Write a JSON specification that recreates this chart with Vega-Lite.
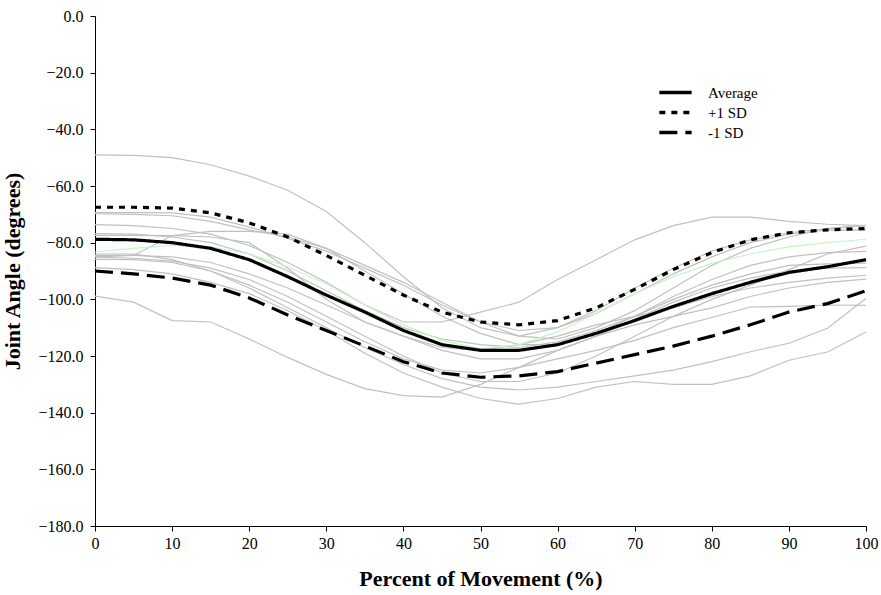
{
  "$schema": "https://vega.github.io/schema/vega-lite/v6.json",
  "width": 771,
  "height": 510,
  "autosize": {"type": "none"},
  "padding": {"left": 95, "top": 16, "right": 15, "bottom": 69},
  "background": "white",
  "config": {
    "view": {"stroke": null},
    "font": "Liberation Serif",
    "axis": {
      "grid": false,
      "domainColor": "black",
      "tickColor": "black",
      "labelColor": "black",
      "titleColor": "black",
      "labelFont": "Liberation Serif",
      "titleFont": "Liberation Serif",
      "labelFontSize": 16,
      "titleFontSize": 22,
      "titleFontWeight": "bold",
      "tickSize": 5
    }
  },
  "data": {"values": [
    {"s":"G1","x":0,"y":-49},{"s":"G1","x":5,"y":-49.2},{"s":"G1","x":10,"y":-50},{"s":"G1","x":15,"y":-52.5},{"s":"G1","x":20,"y":-56.5},{"s":"G1","x":25,"y":-61.5},{"s":"G1","x":30,"y":-69},{"s":"G1","x":35,"y":-80},{"s":"G1","x":40,"y":-92},{"s":"G1","x":45,"y":-103},{"s":"G1","x":50,"y":-110},{"s":"G1","x":55,"y":-113},{"s":"G1","x":60,"y":-110},{"s":"G1","x":65,"y":-104},{"s":"G1","x":70,"y":-96},{"s":"G1","x":75,"y":-89},{"s":"G1","x":80,"y":-83},{"s":"G1","x":85,"y":-79},{"s":"G1","x":90,"y":-76.5},{"s":"G1","x":95,"y":-75},{"s":"G1","x":100,"y":-74},
    {"s":"G2","x":0,"y":-69.4},{"s":"G2","x":5,"y":-69.4},{"s":"G2","x":10,"y":-69.5},{"s":"G2","x":15,"y":-71},{"s":"G2","x":20,"y":-74.5},{"s":"G2","x":25,"y":-78.5},{"s":"G2","x":30,"y":-83},{"s":"G2","x":35,"y":-89},{"s":"G2","x":40,"y":-95},{"s":"G2","x":45,"y":-102},{"s":"G2","x":50,"y":-108},{"s":"G2","x":55,"y":-111},{"s":"G2","x":60,"y":-110},{"s":"G2","x":65,"y":-105},{"s":"G2","x":70,"y":-98},{"s":"G2","x":75,"y":-91},{"s":"G2","x":80,"y":-85},{"s":"G2","x":85,"y":-80},{"s":"G2","x":90,"y":-77},{"s":"G2","x":95,"y":-75.5},{"s":"G2","x":100,"y":-75.6},
    {"s":"G3","x":0,"y":-69.8},{"s":"G3","x":5,"y":-70},{"s":"G3","x":10,"y":-70.5},{"s":"G3","x":15,"y":-72.5},{"s":"G3","x":20,"y":-75.5},{"s":"G3","x":25,"y":-78},{"s":"G3","x":30,"y":-82},{"s":"G3","x":35,"y":-88},{"s":"G3","x":40,"y":-94},{"s":"G3","x":45,"y":-101},{"s":"G3","x":50,"y":-108},{"s":"G3","x":55,"y":-113},{"s":"G3","x":60,"y":-114},{"s":"G3","x":65,"y":-110},{"s":"G3","x":70,"y":-104},{"s":"G3","x":75,"y":-96},{"s":"G3","x":80,"y":-88},{"s":"G3","x":85,"y":-82},{"s":"G3","x":90,"y":-78},{"s":"G3","x":95,"y":-75},{"s":"G3","x":100,"y":-73.9},
    {"s":"G4","x":0,"y":-73.6},{"s":"G4","x":5,"y":-74},{"s":"G4","x":10,"y":-75},{"s":"G4","x":15,"y":-77},{"s":"G4","x":20,"y":-81},{"s":"G4","x":25,"y":-87},{"s":"G4","x":30,"y":-94},{"s":"G4","x":35,"y":-102},{"s":"G4","x":40,"y":-108},{"s":"G4","x":45,"y":-108},{"s":"G4","x":50,"y":-104.5},{"s":"G4","x":55,"y":-101},{"s":"G4","x":60,"y":-93},{"s":"G4","x":65,"y":-86},{"s":"G4","x":70,"y":-79},{"s":"G4","x":75,"y":-74},{"s":"G4","x":80,"y":-71},{"s":"G4","x":85,"y":-71},{"s":"G4","x":90,"y":-72.5},{"s":"G4","x":95,"y":-73.5},{"s":"G4","x":100,"y":-74},
    {"s":"G5","x":0,"y":-85},{"s":"G5","x":5,"y":-84.5},{"s":"G5","x":10,"y":-77.5},{"s":"G5","x":15,"y":-76},{"s":"G5","x":20,"y":-76},{"s":"G5","x":25,"y":-77},{"s":"G5","x":30,"y":-82},{"s":"G5","x":35,"y":-90},{"s":"G5","x":40,"y":-98},{"s":"G5","x":45,"y":-106},{"s":"G5","x":50,"y":-112},{"s":"G5","x":55,"y":-116},{"s":"G5","x":60,"y":-116},{"s":"G5","x":65,"y":-112},{"s":"G5","x":70,"y":-106},{"s":"G5","x":75,"y":-99},{"s":"G5","x":80,"y":-93},{"s":"G5","x":85,"y":-88},{"s":"G5","x":90,"y":-85},{"s":"G5","x":95,"y":-83.5},{"s":"G5","x":100,"y":-83.1},
    {"s":"G6","x":0,"y":-76.8},{"s":"G6","x":5,"y":-77},{"s":"G6","x":10,"y":-78},{"s":"G6","x":15,"y":-80},{"s":"G6","x":20,"y":-84},{"s":"G6","x":25,"y":-90},{"s":"G6","x":30,"y":-97},{"s":"G6","x":35,"y":-104},{"s":"G6","x":40,"y":-110},{"s":"G6","x":45,"y":-114},{"s":"G6","x":50,"y":-116},{"s":"G6","x":55,"y":-117},{"s":"G6","x":60,"y":-115},{"s":"G6","x":65,"y":-111},{"s":"G6","x":70,"y":-106},{"s":"G6","x":75,"y":-100},{"s":"G6","x":80,"y":-95},{"s":"G6","x":85,"y":-91},{"s":"G6","x":90,"y":-88},{"s":"G6","x":95,"y":-87.5},{"s":"G6","x":100,"y":-87.2},
    {"s":"G7","x":0,"y":-77.4},{"s":"G7","x":5,"y":-77.4},{"s":"G7","x":10,"y":-77.5},{"s":"G7","x":15,"y":-78},{"s":"G7","x":20,"y":-80},{"s":"G7","x":25,"y":-89},{"s":"G7","x":30,"y":-100},{"s":"G7","x":35,"y":-108},{"s":"G7","x":40,"y":-113},{"s":"G7","x":45,"y":-118},{"s":"G7","x":50,"y":-121},{"s":"G7","x":55,"y":-121},{"s":"G7","x":60,"y":-118},{"s":"G7","x":65,"y":-113},{"s":"G7","x":70,"y":-107},{"s":"G7","x":75,"y":-101},{"s":"G7","x":80,"y":-96},{"s":"G7","x":85,"y":-92.5},{"s":"G7","x":90,"y":-90},{"s":"G7","x":95,"y":-89},{"s":"G7","x":100,"y":-88.8},
    {"s":"G8","x":0,"y":-84.5},{"s":"G8","x":5,"y":-84.5},{"s":"G8","x":10,"y":-85},{"s":"G8","x":15,"y":-87},{"s":"G8","x":20,"y":-91},{"s":"G8","x":25,"y":-96},{"s":"G8","x":30,"y":-102},{"s":"G8","x":35,"y":-108},{"s":"G8","x":40,"y":-113},{"s":"G8","x":45,"y":-117},{"s":"G8","x":50,"y":-118},{"s":"G8","x":55,"y":-116},{"s":"G8","x":60,"y":-113},{"s":"G8","x":65,"y":-109},{"s":"G8","x":70,"y":-106},{"s":"G8","x":75,"y":-103},{"s":"G8","x":80,"y":-99},{"s":"G8","x":85,"y":-96},{"s":"G8","x":90,"y":-94},{"s":"G8","x":95,"y":-92.5},{"s":"G8","x":100,"y":-91.5},
    {"s":"G9","x":0,"y":-85.1},{"s":"G9","x":5,"y":-85.5},{"s":"G9","x":10,"y":-86.5},{"s":"G9","x":15,"y":-89},{"s":"G9","x":20,"y":-93},{"s":"G9","x":25,"y":-99},{"s":"G9","x":30,"y":-106},{"s":"G9","x":35,"y":-113},{"s":"G9","x":40,"y":-120},{"s":"G9","x":45,"y":-126},{"s":"G9","x":50,"y":-129},{"s":"G9","x":55,"y":-129},{"s":"G9","x":60,"y":-126},{"s":"G9","x":65,"y":-120},{"s":"G9","x":70,"y":-113},{"s":"G9","x":75,"y":-106},{"s":"G9","x":80,"y":-100},{"s":"G9","x":85,"y":-95},{"s":"G9","x":90,"y":-89.5},{"s":"G9","x":95,"y":-84},{"s":"G9","x":100,"y":-81.2},
    {"s":"G10","x":0,"y":-85.9},{"s":"G10","x":5,"y":-86},{"s":"G10","x":10,"y":-87},{"s":"G10","x":15,"y":-90},{"s":"G10","x":20,"y":-95},{"s":"G10","x":25,"y":-101},{"s":"G10","x":30,"y":-108},{"s":"G10","x":35,"y":-115},{"s":"G10","x":40,"y":-121},{"s":"G10","x":45,"y":-125},{"s":"G10","x":50,"y":-126},{"s":"G10","x":55,"y":-124},{"s":"G10","x":60,"y":-121},{"s":"G10","x":65,"y":-118},{"s":"G10","x":70,"y":-114.5},{"s":"G10","x":75,"y":-110},{"s":"G10","x":80,"y":-106.4},{"s":"G10","x":85,"y":-102.7},{"s":"G10","x":90,"y":-102.5},{"s":"G10","x":95,"y":-102},{"s":"G10","x":100,"y":-102.1},
    {"s":"G11","x":0,"y":-88.8},{"s":"G11","x":5,"y":-89.5},{"s":"G11","x":10,"y":-91},{"s":"G11","x":15,"y":-94},{"s":"G11","x":20,"y":-98},{"s":"G11","x":25,"y":-104},{"s":"G11","x":30,"y":-111},{"s":"G11","x":35,"y":-119},{"s":"G11","x":40,"y":-126},{"s":"G11","x":45,"y":-131},{"s":"G11","x":50,"y":-135},{"s":"G11","x":55,"y":-137},{"s":"G11","x":60,"y":-135},{"s":"G11","x":65,"y":-131},{"s":"G11","x":70,"y":-129},{"s":"G11","x":75,"y":-130},{"s":"G11","x":80,"y":-130},{"s":"G11","x":85,"y":-127},{"s":"G11","x":90,"y":-121.5},{"s":"G11","x":95,"y":-118.6},{"s":"G11","x":100,"y":-111.5},
    {"s":"G12","x":0,"y":-98.9},{"s":"G12","x":5,"y":-101},{"s":"G12","x":10,"y":-107.5},{"s":"G12","x":15,"y":-108},{"s":"G12","x":20,"y":-114},{"s":"G12","x":25,"y":-120.5},{"s":"G12","x":30,"y":-126.5},{"s":"G12","x":35,"y":-131.5},{"s":"G12","x":40,"y":-134},{"s":"G12","x":45,"y":-134.5},{"s":"G12","x":50,"y":-130},{"s":"G12","x":55,"y":-124},{"s":"G12","x":60,"y":-118},{"s":"G12","x":65,"y":-113},{"s":"G12","x":70,"y":-109},{"s":"G12","x":75,"y":-106},{"s":"G12","x":80,"y":-103},{"s":"G12","x":85,"y":-99},{"s":"G12","x":90,"y":-96},{"s":"G12","x":95,"y":-94},{"s":"G12","x":100,"y":-92.9},
    {"s":"G13","x":0,"y":-84},{"s":"G13","x":5,"y":-84},{"s":"G13","x":10,"y":-86},{"s":"G13","x":15,"y":-90},{"s":"G13","x":20,"y":-96},{"s":"G13","x":25,"y":-103},{"s":"G13","x":30,"y":-110},{"s":"G13","x":35,"y":-117},{"s":"G13","x":40,"y":-123},{"s":"G13","x":45,"y":-128},{"s":"G13","x":50,"y":-131},{"s":"G13","x":55,"y":-132},{"s":"G13","x":60,"y":-131},{"s":"G13","x":65,"y":-129},{"s":"G13","x":70,"y":-127},{"s":"G13","x":75,"y":-125},{"s":"G13","x":80,"y":-122},{"s":"G13","x":85,"y":-118.5},{"s":"G13","x":90,"y":-115.5},{"s":"G13","x":95,"y":-110.2},{"s":"G13","x":100,"y":-99.7},
    {"s":"Green","x":0,"y":-83.3},{"s":"Green","x":5,"y":-82},{"s":"Green","x":10,"y":-81},{"s":"Green","x":15,"y":-81.5},{"s":"Green","x":20,"y":-84},{"s":"Green","x":25,"y":-88.5},{"s":"Green","x":30,"y":-94.5},{"s":"Green","x":35,"y":-102},{"s":"Green","x":40,"y":-109},{"s":"Green","x":45,"y":-114.5},{"s":"Green","x":50,"y":-117.5},{"s":"Green","x":55,"y":-116},{"s":"Green","x":60,"y":-111.5},{"s":"Green","x":65,"y":-105},{"s":"Green","x":70,"y":-98},{"s":"Green","x":75,"y":-92},{"s":"Green","x":80,"y":-87.3},{"s":"Green","x":85,"y":-84},{"s":"Green","x":90,"y":-81.5},{"s":"Green","x":95,"y":-80},{"s":"Green","x":100,"y":-78.8},
    {"s":"Average","x":0,"y":-78.8},{"s":"Average","x":5,"y":-79},{"s":"Average","x":10,"y":-80},{"s":"Average","x":15,"y":-82},{"s":"Average","x":20,"y":-86},{"s":"Average","x":25,"y":-92},{"s":"Average","x":30,"y":-98.5},{"s":"Average","x":35,"y":-104.5},{"s":"Average","x":40,"y":-111},{"s":"Average","x":45,"y":-116},{"s":"Average","x":50,"y":-118},{"s":"Average","x":55,"y":-118},{"s":"Average","x":60,"y":-116},{"s":"Average","x":65,"y":-112},{"s":"Average","x":70,"y":-107.5},{"s":"Average","x":75,"y":-102.5},{"s":"Average","x":80,"y":-98},{"s":"Average","x":85,"y":-94},{"s":"Average","x":90,"y":-90.5},{"s":"Average","x":95,"y":-88.5},{"s":"Average","x":100,"y":-86},
    {"s":"+1 SD","x":0,"y":-67.5},{"s":"+1 SD","x":5,"y":-67.5},{"s":"+1 SD","x":10,"y":-67.8},{"s":"+1 SD","x":15,"y":-69.5},{"s":"+1 SD","x":20,"y":-73},{"s":"+1 SD","x":25,"y":-78},{"s":"+1 SD","x":30,"y":-84.5},{"s":"+1 SD","x":35,"y":-91.5},{"s":"+1 SD","x":40,"y":-98.5},{"s":"+1 SD","x":45,"y":-104.5},{"s":"+1 SD","x":50,"y":-108},{"s":"+1 SD","x":55,"y":-109},{"s":"+1 SD","x":60,"y":-107.5},{"s":"+1 SD","x":65,"y":-103},{"s":"+1 SD","x":70,"y":-96.5},{"s":"+1 SD","x":75,"y":-89.5},{"s":"+1 SD","x":80,"y":-83.5},{"s":"+1 SD","x":85,"y":-79},{"s":"+1 SD","x":90,"y":-76.5},{"s":"+1 SD","x":95,"y":-75.5},{"s":"+1 SD","x":100,"y":-75},
    {"s":"-1 SD","x":0,"y":-90},{"s":"-1 SD","x":5,"y":-91},{"s":"-1 SD","x":10,"y":-92.5},{"s":"-1 SD","x":15,"y":-95},{"s":"-1 SD","x":20,"y":-99.5},{"s":"-1 SD","x":25,"y":-105.5},{"s":"-1 SD","x":30,"y":-111},{"s":"-1 SD","x":35,"y":-116.5},{"s":"-1 SD","x":40,"y":-122},{"s":"-1 SD","x":45,"y":-126},{"s":"-1 SD","x":50,"y":-127.5},{"s":"-1 SD","x":55,"y":-127},{"s":"-1 SD","x":60,"y":-125.5},{"s":"-1 SD","x":65,"y":-122.5},{"s":"-1 SD","x":70,"y":-119.5},{"s":"-1 SD","x":75,"y":-116.5},{"s":"-1 SD","x":80,"y":-113},{"s":"-1 SD","x":85,"y":-109},{"s":"-1 SD","x":90,"y":-104.5},{"s":"-1 SD","x":95,"y":-101.5},{"s":"-1 SD","x":100,"y":-97}
  ]},
  "encoding": {
    "x": {
      "field": "x", "type": "quantitative",
      "scale": {"domain": [0, 100], "nice": false},
      "axis": {"values": [0,10,20,30,40,50,60,70,80,90,100], "title": "Percent of Movement (%)", "titlePadding": 17, "labelPadding": 4, "labelFlush": false}
    },
    "y": {
      "field": "y", "type": "quantitative",
      "scale": {"domain": [-180, 0], "nice": false, "zero": false},
      "axis": {"values": [-180,-160,-140,-120,-100,-80,-60,-40,-20,0], "format": ".1f", "title": "Joint Angle (degrees)", "labelPadding": 7, "titlePadding": 13}
    }
  },
  "layer": [
    {
      "transform": [{"filter": "indexof(datum.s, 'G') == 0 && datum.s != 'Green'"}],
      "mark": {"type": "line", "stroke": "#c0c0c0", "strokeWidth": 1.2},
      "encoding": {"detail": {"field": "s"}}
    },
    {
      "transform": [{"filter": "datum.s == 'Green'"}],
      "mark": {"type": "line", "stroke": "#c6f5c6", "strokeWidth": 1.2}
    },
    {
      "transform": [{"filter": "datum.s == 'Average' || datum.s == '+1 SD' || datum.s == '-1 SD'"}],
      "mark": {"type": "line", "stroke": "black", "strokeWidth": 3.2},
      "encoding": {
        "strokeDash": {
          "field": "s", "type": "nominal",
          "scale": {"domain": ["Average", "+1 SD", "-1 SD"], "range": [[1, 0], [6, 6], [18, 8]]},
          "legend": {
            "title": null,
            "orient": "none",
            "legendX": 569,
            "legendY": 65,
            "symbolType": "M-1.7,0H1.7",
            "symbolSize": 361,
            "symbolStrokeWidth": 3.5,
            "symbolStrokeColor": "black",
            "symbolFillColor": "transparent",
            "labelFont": "Liberation Serif",
            "labelFontSize": 15,
            "labelColor": "black",
            "labelOffset": 21,
            "rowPadding": 0
          }
        }
      }
    }
  ]
}
